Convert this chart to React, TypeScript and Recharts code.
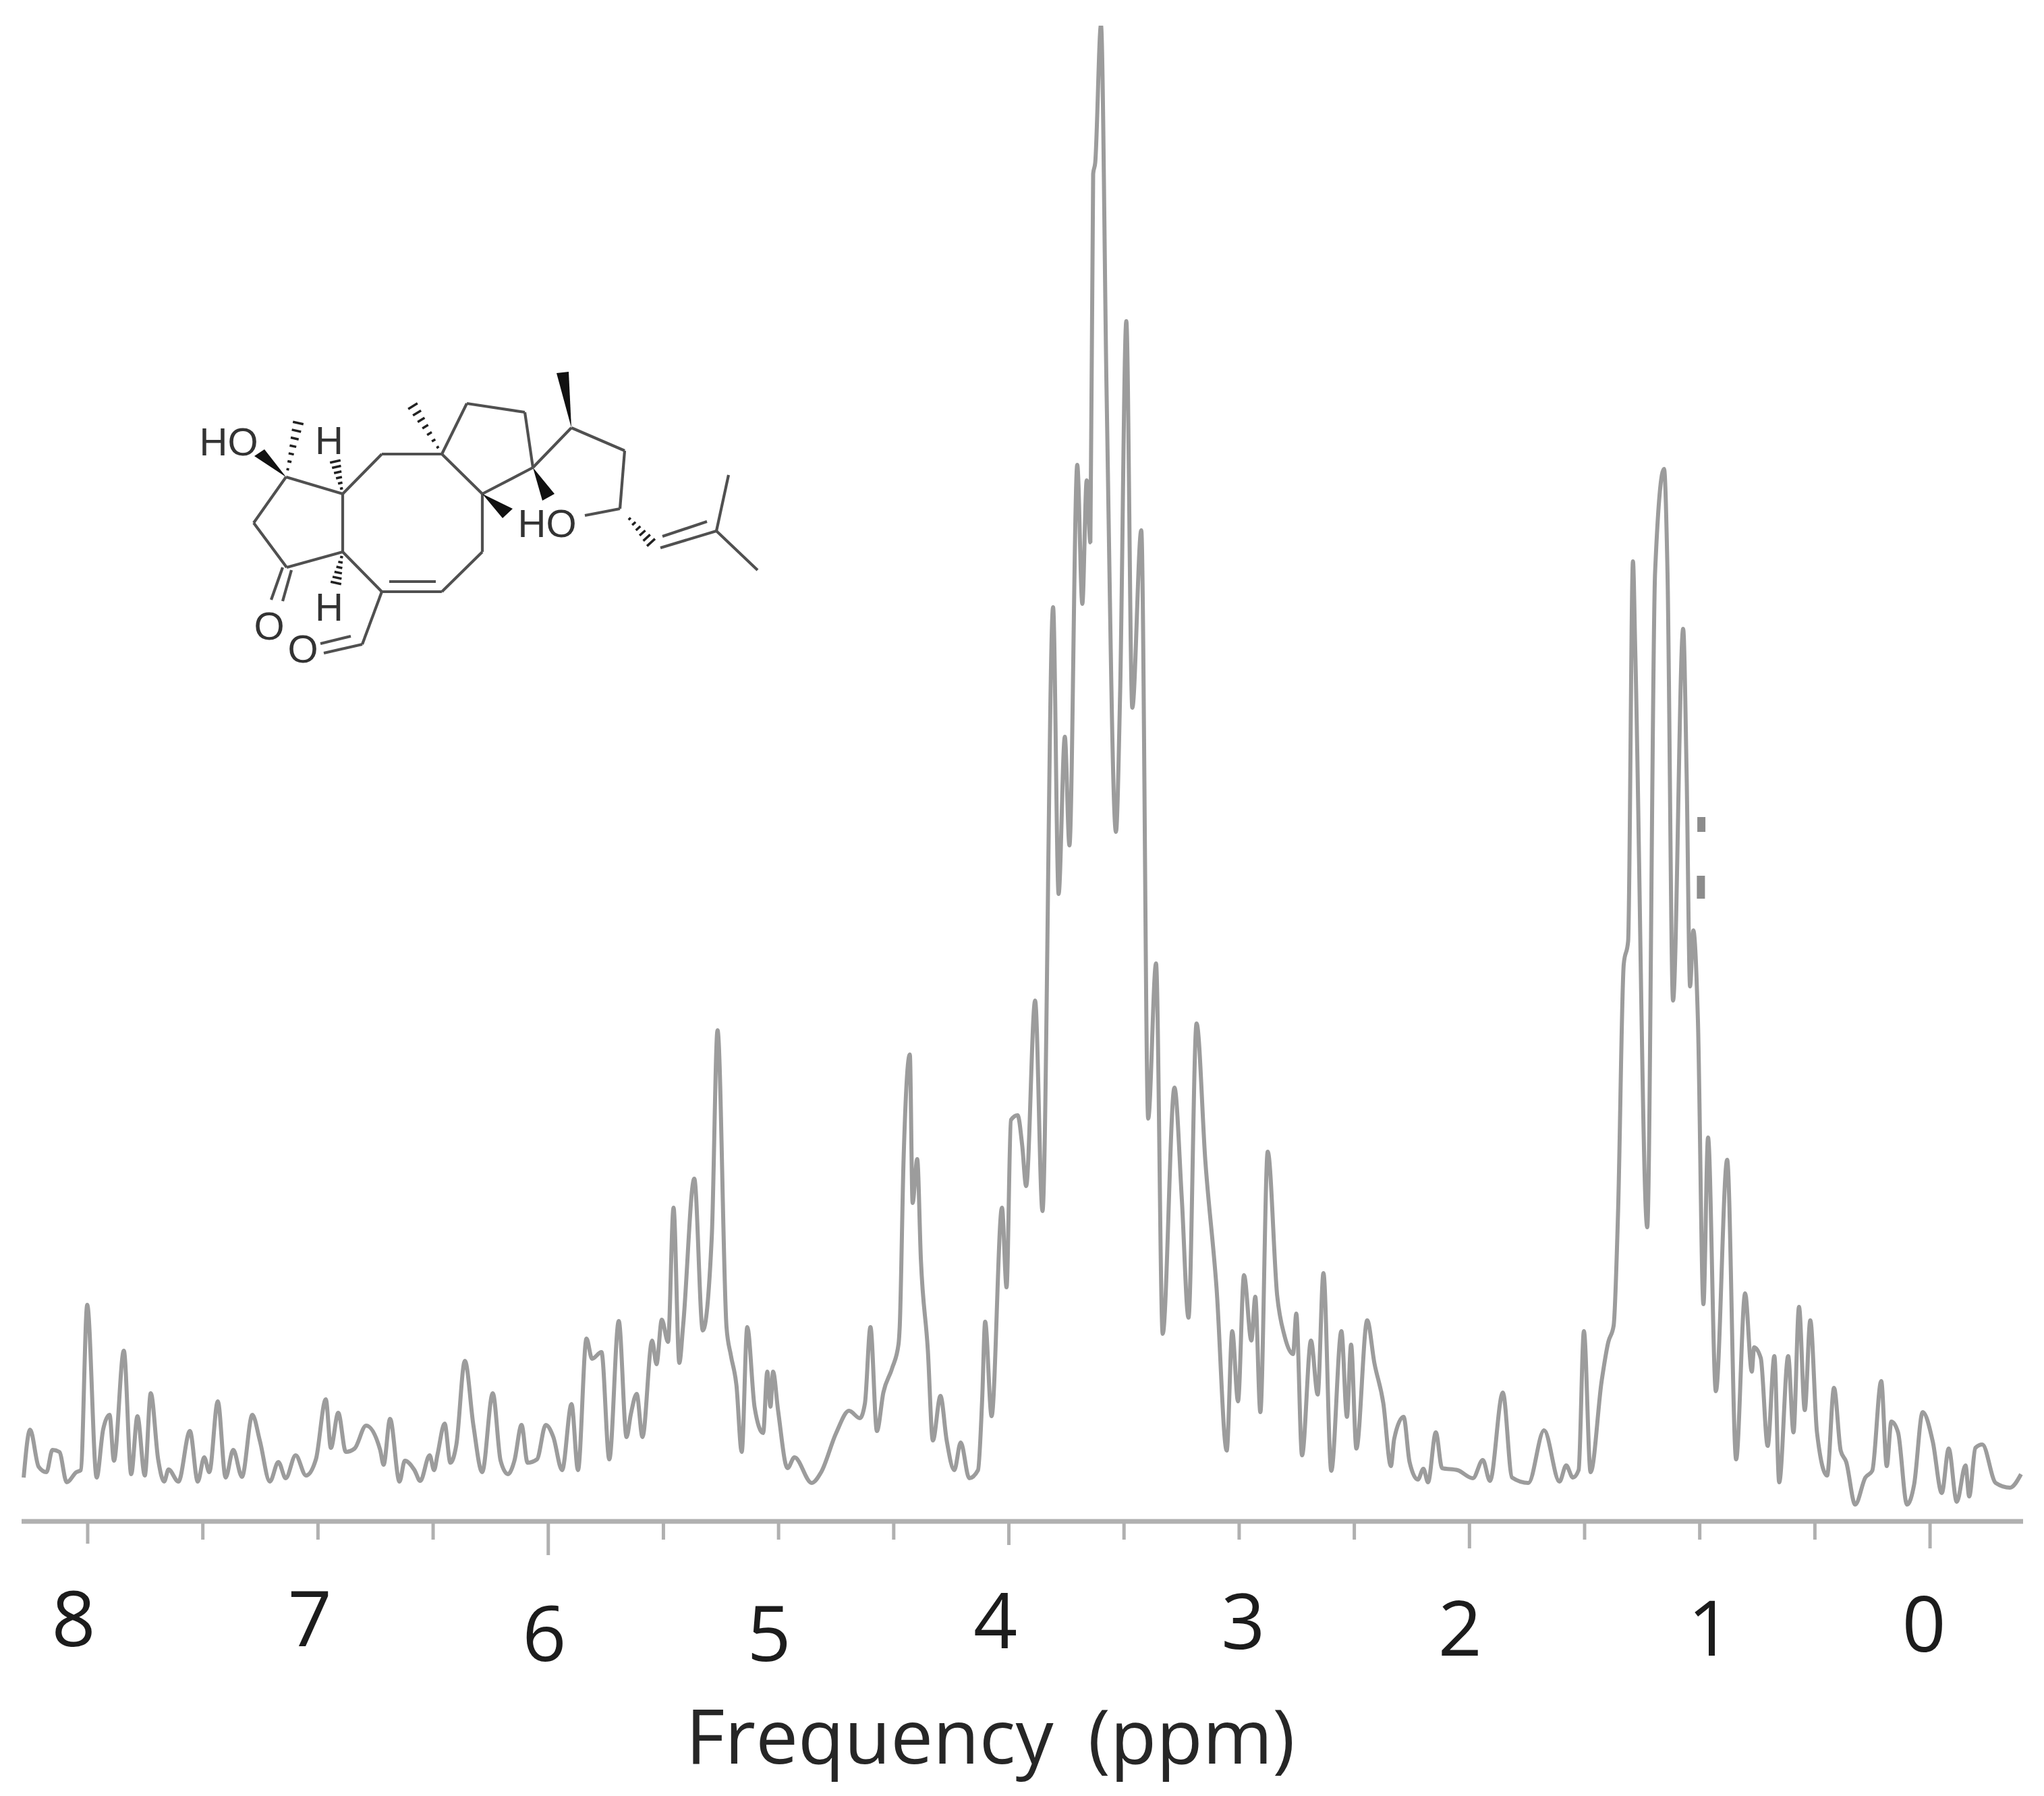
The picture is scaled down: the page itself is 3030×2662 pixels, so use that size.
import React from "react";
import { ComposedChart, Line, Scatter, XAxis, YAxis, Label } from "recharts";

// Spectrum values: [chemical shift (ppm), intensity (a.u.)]
const spectrumDownfield: [number, number][] = [
  [8.278,65],[8.25,136],[8.213,81],[8.179,73],[8.153,106],[8.123,103],[8.091,58],[8.049,73],[8.03,76],[8.002,321],
  [7.961,65],[7.933,136],[7.905,158],[7.886,90],[7.843,253],[7.811,70],[7.784,156],[7.752,68],[7.726,190],[7.694,92],
  [7.668,59],[7.649,77],[7.606,59],[7.556,134],[7.522,59],[7.494,95],[7.472,73],[7.435,178],[7.401,65],[7.368,106],
  [7.33,66],[7.285,158],[7.252,119],[7.209,59],[7.172,88],[7.14,64],[7.097,98],[7.052,68],[7.009,92],[6.966,181],
  [6.944,109],[6.912,161],[6.879,103],[6.841,108],[6.791,142],[6.73,106],[6.715,84],[6.687,152],[6.646,59],[6.623,90],
  [6.581,76],[6.556,60],[6.515,98],[6.496,76],[6.481,99],[6.45,145],[6.425,87],[6.399,114],[6.362,238],[6.325,142],
  [6.287,73],[6.241,190],[6.207,90],[6.175,70],[6.147,90],[6.116,143],[6.09,87],[6.049,92],[6.011,143],[5.978,125],
  [5.94,76],[5.899,174],[5.871,76],[5.834,271],[5.81,241],[5.769,251],[5.735,92],[5.694,297],[5.66,125],[5.642,158],
  [5.616,189],[5.591,125],[5.549,268],[5.53,233],[5.507,299],[5.48,266],
];
const spectrumOlefinic: [number, number][] = [
  [5.456,465],[5.431,235],[5.414,292],[5.366,508],[5.329,283],[5.29,422],[5.265,728],[5.226,288],[5.207,246],[5.183,202],
  [5.16,103],[5.136,288],[5.104,169],[5.067,131],[5.049,222],[5.035,170],[5.024,222],[5.002,164],[4.961,79],[4.931,95],
  [4.856,57],[4.815,73],[4.75,131],[4.694,164],[4.647,153],[4.625,175],[4.601,288],[4.573,134],[4.545,191],[4.507,227],
  [4.479,263],
];
const spectrumMidfield: [number, number][] = [
  [4.474,288],[4.457,538],[4.43,692],[4.418,472],[4.398,537],[4.382,388],[4.352,255],[4.33,120],[4.297,186],[4.27,120],
  [4.237,76],[4.209,117],[4.172,64],[4.134,76],[4.116,180],[4.103,296],[4.075,156],[4.03,465],[4.01,347],[3.991,595],
  [3.962,602],[3.942,557],[3.925,497],[3.886,772],[3.854,460],[3.808,1355],[3.784,930],[3.757,1163],[3.737,1002],
];
const spectrumMain: [number, number][] = [
  [3.703,1566],[3.681,1360],[3.662,1543],[3.646,1451],[3.634,1997],[3.625,2014],[3.6,2218],[3.576,1681],[3.535,1022],[3.517,1226],
  [3.49,1779],[3.464,1206],[3.425,1469],[3.395,597],[3.361,827],[3.332,278],[3.281,643],[3.249,478],[3.22,302],[3.185,738],
  [3.147,535],[3.098,345],[3.054,105],[3.03,282],[3.005,178],[2.979,365],[2.947,268],[2.93,333],[2.908,162],[2.876,548],
  [2.835,335],[2.803,275],[2.766,248],[2.752,308],[2.727,98],[2.688,268],[2.659,188],[2.634,368],[2.6,75],[2.556,282],
  [2.532,155],[2.514,262],[2.491,108],[2.444,298],[2.413,235],[2.374,175],[2.341,82],[2.327,122],[2.286,155],[2.26,88],
  [2.224,62],[2.2,78],[2.18,58],[2.146,132],[2.119,79],[2.052,76],[1.985,64],[1.942,91],[1.911,60],[1.855,191],
  [1.815,65],[1.744,57],[1.676,135],[1.609,59],[1.58,83],[1.551,65],[1.526,76],[1.503,282],[1.474,73],[1.426,208],
  [1.397,266],[1.374,290],[1.355,455],
];
const spectrumUpfield: [number, number][] = [
  [1.33,826],[1.311,860],[1.29,1423],[1.28,1290],[1.228,436],[1.194,1406],[1.155,1560],[1.14,1406],[1.116,772],[1.072,1323],
  [1.057,1108],[1.042,793],[1.028,876],[1.008,743],[0.984,322],[0.964,569],[0.93,193],[0.881,536],[0.842,92],[0.803,338],
  [0.774,222],[0.764,258],[0.735,242],[0.705,112],[0.676,245],[0.655,58],[0.616,245],[0.593,132],[0.569,318],[0.544,165],
  [0.52,298],[0.491,132],[0.447,68],[0.417,198],[0.388,105],[0.364,88],[0.325,25],[0.281,65],[0.251,75],[0.212,208],
  [0.188,82],[0.168,148],[0.139,132],[0.1,25],[0.069,55],[0.032,162],[-0.012,118],[-0.051,42],[-0.081,108],[-0.116,29],
  [-0.154,83],[-0.17,37],[-0.197,109],[-0.227,114],[-0.285,57],[-0.347,50],[-0.395,70],
];
const strayMarks: [number, number][] = [[0.993,1033],[0.995,940]];

const xTicks = [8,7.5,7,6.5,6,5.5,5,4.5,4,3.5,3,2.5,2,1.5,1,0.5,0];
const xDomain = [-0.404, 8.287];
const yDomain = [0, 2217];
const axisTitle = "Frequency (ppm)";

const spectrum = [...spectrumDownfield, ...spectrumOlefinic, ...spectrumMidfield, ...spectrumMain, ...spectrumUpfield]
  .map(([ppm, intensity]) => ({ ppm, intensity }));
const strayData = strayMarks.map(([ppm, intensity]) => ({ ppm, stray: intensity }));

const W = 3030, H = 2662, AXIS_Y = 2255;
const GREY = "#9c9c9c";
const FONT = "'Open Sans', sans-serif";

// Hand-set look of the tick labels and tick lengths in the figure.
const labelNudge: Record<number, [number, number]> = {
  8: [-21, 185], 7: [-12, 185], 6: [-6, 207], 5: [-14, 207], 4: [-20, 188],
  3: [6, 189], 2: [-14, 199], 1: [15, 199], 0: [-9, 193],
};
const tickLength: Record<number, number> = { 8: 33, 6: 50, 4: 35, 2: 40, 0: 40 };

function XTick(props: any) {
  const { x, payload } = props;
  const v: number = payload.value;
  const len = tickLength[v] ?? 27;
  const nudge = labelNudge[v];
  return (
    <g>
      <line x1={x} x2={x} y1={AXIS_Y} y2={AXIS_Y + len} stroke="#b0b0b0" strokeWidth={5} />
      {nudge && (
        <text x={x + nudge[0]} y={AXIS_Y + nudge[1]} textAnchor="middle" fontFamily={FONT} fontSize={114} fill="#1c1c1c">
          {String(v)}
        </text>
      )}
    </g>
  );
}

function AxisTitle() {
  return (
    <text x={1468} y={2614} textAnchor="middle" fontFamily={FONT} fontSize={112} fill="#262626" style={{ wordSpacing: 22 }}>
      {axisTitle}
    </text>
  );
}

function StrayMark(props: any) {
  const h = props.index === 0 ? 22 : 34;
  return <rect x={props.cx - 6} y={props.cy - h / 2} width={12} height={h} fill="#8c8c8c" />;
}

// Structure inset
const bonds: number[][] = [
  [424,707,508,732],[508,732,508,818],[508,818,425,841],[425,841,376,775],[376,775,424,707],
  [508,732,566,673],[566,673,655,673],[655,673,715,732],[715,732,715,818],[715,818,655,877],
  [655,877,566,877],[566,877,508,818],[577,862,646,862],[655,673,692,598],[692,598,778,611],
  [778,611,790,693],[790,693,715,732],[790,693,847,634],[847,634,926,668],[926,668,919,754],
  [919,754,867,764],[419,841,402,889],[432,845,419,891],[566,877,537,955],[537,955,480,968],
  [520,943,475,954],[979,812,1062,787],[982,795,1048,773],[1062,787,1080,704],[1062,787,1123,845],
];
const wedges: number[][] = [
  [424,707,377,676,392,666],[790,693,804,742,822,732],[715,732,745,768,760,754],[847,634,825,553,843,551],
];
const hashes: number[][] = [
  [424,707,442,627,7],[655,673,612,602,7],[508,732,497,684,6],[508,818,498,864,6],[927,762,965,804,6],
];
const atoms: [string, number, number][] = [
  ["HO",339,675],["H",488,673],["HO",811,796],["H",488,920],["O",399,948],["O",449,982],
];

function Molecule() {
  const ink = "#505050";
  return (
    <svg width={W} height={H} style={{ position: "absolute", left: 0, top: 0, pointerEvents: "none" }}>
      {bonds.map((b, i) => <line key={i} x1={b[0]} y1={b[1]} x2={b[2]} y2={b[3]} stroke={ink} strokeWidth={4.2} />)}
      {wedges.map((w, i) => <polygon key={i} points={`${w[0]},${w[1]} ${w[2]},${w[3]} ${w[4]},${w[5]}`} fill="#111" />)}
      {hashes.map((h, i) => {
        const n = h[4];
        const dx = h[2] - h[0], dy = h[3] - h[1];
        const l = Math.hypot(dx, dy);
        const ux = -dy / l, uy = dx / l;
        return (
          <g key={i}>
            {Array.from({ length: n }, (_, k) => {
              const t = (k + 1) / n;
              const hw = 1 + 7 * t;
              const cx = h[0] + dx * t, cy = h[1] + dy * t;
              return <line key={k} x1={cx - ux * hw} y1={cy - uy * hw} x2={cx + ux * hw} y2={cy + uy * hw} stroke="#222" strokeWidth={3.5} />;
            })}
          </g>
        );
      })}
      {atoms.map(([s, x, y], i) => (
        <text key={i} x={x} y={y} textAnchor="middle" fontFamily="'Liberation Sans', Arial, sans-serif" fontSize={58} fill="#333">{s}</text>
      ))}
    </svg>
  );
}

export default function App() {
  return (
    <div style={{ position: "absolute", left: 0, top: 0, width: W, height: H, background: "#fff", overflow: "hidden" }}>
      <ComposedChart
        width={W}
        height={H}
        data={spectrum}
        margin={{ top: 38, right: W - 2999, bottom: 0, left: 32 }}
      >
        <XAxis
          dataKey="ppm"
          type="number"
          domain={xDomain}
          reversed
          allowDataOverflow
          ticks={xTicks}
          interval={0}
          height={H - AXIS_Y}
          tick={<XTick />}
          tickLine={false}
          axisLine={{ stroke: "#b0b0b0", strokeWidth: 7 }}
        >
          <Label content={<AxisTitle />} />
        </XAxis>
        <YAxis hide domain={yDomain} type="number" allowDataOverflow width={0} />
        <Line
          dataKey="intensity"
          type="monotone"
          stroke={GREY}
          strokeWidth={6}
          strokeLinejoin="bevel"
          dot={false}
          activeDot={false}
          isAnimationActive={false}
          legendType="none"
        />
        <Scatter data={strayData} dataKey="stray" shape={<StrayMark />} isAnimationActive={false} />
      </ComposedChart>
      <Molecule />
    </div>
  );
}
